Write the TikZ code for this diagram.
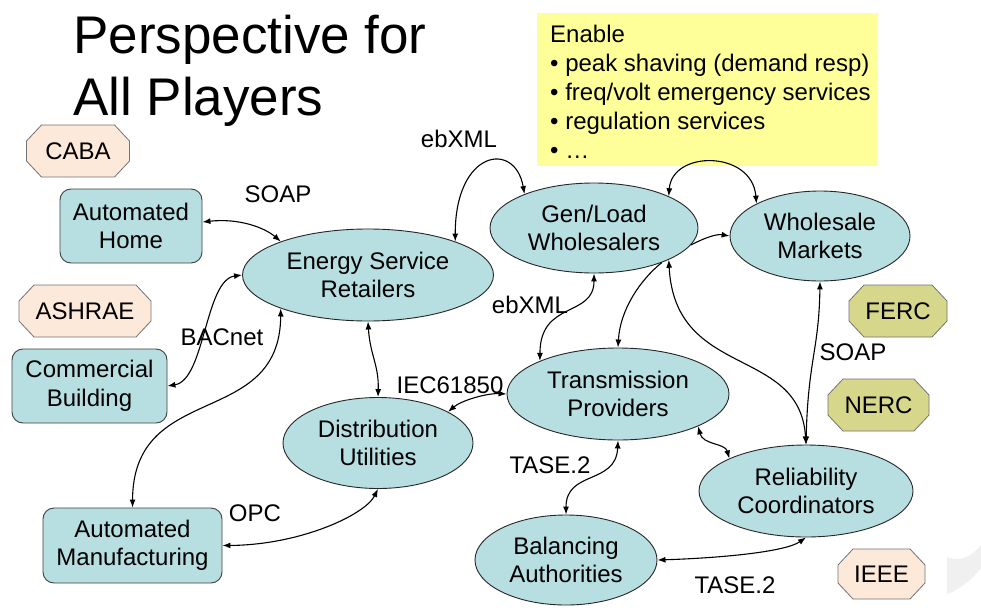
\documentclass[tikz,border=0pt]{standalone}
\usepackage{fontspec}
\setmainfont{Liberation Sans}
\usetikzlibrary{arrows.meta,shapes.geometric}
\definecolor{nodefill}{HTML}{B7DEE1}
\definecolor{peachfill}{HTML}{FDE9D9}
\definecolor{olivefill}{HTML}{D7D78C}
\definecolor{notefill}{HTML}{FFFF99}
\newcommand{\octagonbox}[7]{%
  \draw[octline,fill=#6] (#2-#4+15,#3-#5) -- (#2+#4-15,#3-#5) -- (#2+#4,#3-#5+16) -- (#2+#4,#3+#5-16) -- (#2+#4-15,#3+#5) -- (#2-#4+15,#3+#5) -- (#2-#4,#3+#5-16) -- (#2-#4,#3-#5+16) -- cycle;
  \node[lbl] (#1) at (#2,#3) {#7};%
}
\begin{document}
\begin{tikzpicture}[x=1pt,y=-1pt,
  every node/.style={font=\fontsize{24}{28.5}\selectfont},
  ell/.style={ellipse, draw=black!85, line width=0.9pt, fill=nodefill, inner sep=0pt, align=center},
  rbox/.style={rectangle, rounded corners=11pt, draw=black!75, line width=0.9pt, fill=nodefill, inner sep=0pt, align=center},
  octline/.style={draw=black!55, line width=0.8pt},
  lbl/.style={inner sep=0pt, align=center},
  conn/.style={line width=1.1pt, {Latex[length=8pt,width=6pt]}-{Latex[length=8pt,width=6pt]}},
  connone/.style={line width=1.1pt, -{Latex[length=8pt,width=6pt]}},
  proto/.style={inner sep=0pt, anchor=base}
]
\useasboundingbox (0,0) rectangle (981,607);
\fill[white] (0,0) rectangle (981,607);

% title
\node[anchor=base west, inner sep=0pt, font=\fontsize{53}{62}\selectfont] (title1) at (73,54) {Perspective for};
\node[anchor=base west, inner sep=0pt, font=\fontsize{53}{62}\selectfont] (title2) at (73,116) {All Players};

% note box
\node[fill=notefill, minimum width=341pt, minimum height=153pt, anchor=north west, inner sep=0pt] (note) at (537,13) {};
\node[anchor=north west, inner sep=0pt, align=left, font=\fontsize{24}{29}\selectfont] (notetext) at (550,25)
  {Enable\\• peak shaving (demand resp)\\• freq/volt emergency services\\• regulation services\\• …};

% standards bodies
\octagonbox{caba}{78}{151}{51.5}{26}{peachfill}{CABA}
\octagonbox{ashrae}{85}{311}{66}{26}{peachfill}{ASHRAE}
\octagonbox{ferc}{898}{311}{49}{26}{olivefill}{FERC}
\octagonbox{nerc}{878.5}{405}{50.5}{26}{olivefill}{NERC}
\octagonbox{ieee}{881.5}{574}{43.5}{25}{peachfill}{IEEE}

% page curl
\fill[gray!12] (947,557) .. controls (960,562) and (970,558) .. (981,545) -- (981,568) .. controls (970,582) and (958,590) .. (947,594) -- cycle;

% boxes
\node[rbox, minimum width=142pt, minimum height=74pt] (AH) at (131,226) {Automated\\Home};
\node[rbox, minimum width=155pt, minimum height=74pt] (CB) at (89.5,386) {Commercial\\Building};
\node[rbox, minimum width=179pt, minimum height=75pt] (AM) at (132.5,545.5) {Automated\\Manufacturing};

% ellipses
\node[ell, minimum width=251pt, minimum height=92pt] (ESR) at (368,275) {Energy Service\\Retailers};
\node[ell, minimum width=208pt, minimum height=90pt] (GL) at (594,228) {Gen/Load\\Wholesalers};
\node[ell, minimum width=180pt, minimum height=90pt] (WM) at (820,236) {Wholesale\\Markets};
\node[ell, minimum width=222pt, minimum height=92pt] (TP) at (618,394) {Transmission\\Providers};
\node[ell, minimum width=190pt, minimum height=91pt] (DU) at (378,443) {Distribution\\Utilities};
\node[ell, minimum width=214pt, minimum height=92pt] (RC) at (806,491) {Reliability\\Coordinators};
\node[ell, minimum width=182pt, minimum height=90pt] (BA) at (566,560) {Balancing\\Authorities};

% protocol labels
\node[proto] (soap1) at (278,202) {SOAP};
\node[proto] (ebxml1) at (459,147) {ebXML};
\node[proto] (bacnet) at (222,345) {BACnet};
\node[proto] (ebxml2) at (530,313) {ebXML};
\node[proto] (iec) at (450,393) {IEC61850};
\node[proto] (tase1) at (550,473) {TASE.2};
\node[proto] (opc) at (255,521) {OPC};
\node[proto] (soap2) at (853,360) {SOAP};
\node[proto] (tase2) at (735,593) {TASE.2};

% connectors
\draw[conn] ([yshift=4pt]AH.east) .. controls (240,218) and (265,228) .. (ESR.159);
\draw[conn] (ESR.180) .. controls (205,280) and (205,380) .. (CB.east);
\draw[conn] (ESR.201) .. controls (280,430) and (133,380) .. (AM.north);
\draw[conn] (ESR.21) .. controls (455,150) and (515,140) .. (GL.154);
\draw[conn] (GL.270) .. controls (594,318) and (540,300) .. (TP.157);
\draw[connone] (GL.333) .. controls (640,280) and (620,310) .. (TP.90);
\draw[connone] (GL.350) .. controls (708,236) and (718,234) .. (WM.180);
\draw[conn] (GL.23) .. controls (672,150) and (752,150) .. (WM.153);
\draw[conn] (GL.337) .. controls (675,380) and (800,345) .. (RC.90);
\draw[conn] (WM.270) .. controls (819,350) and (808,360) .. (RC.90);
\draw[conn] (ESR.270) .. controls (370,355) and (379,365) .. (DU.90);
\draw[conn] (DU.24) .. controls (462,400) and (488,393) .. (TP.180);
\draw[conn] (DU.270) .. controls (365,515) and (300,545) .. (AM.east);
\draw[conn] (TP.270) .. controls (616,485) and (566,470) .. (BA.90);
\draw[conn] (TP.338) .. controls (703,445) and (725,443) .. (RC.157);
\draw[conn] (BA.east) .. controls (720,558) and (785,552) .. (RC.270);
\end{tikzpicture}
\end{document}
